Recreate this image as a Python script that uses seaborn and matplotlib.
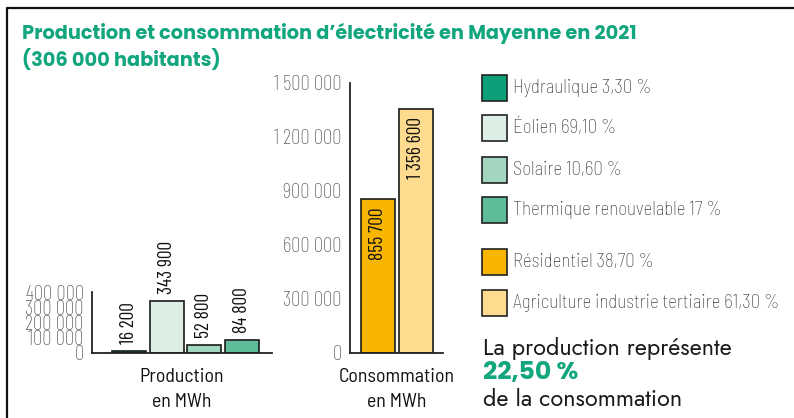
import matplotlib
matplotlib.use("Agg")
import matplotlib.pyplot as plt
from matplotlib import font_manager
from matplotlib.patches import Rectangle
from matplotlib.lines import Line2D
import seaborn as sns

# ---- data ----
prod_categories = ["Hydraulique", "Éolien", "Solaire", "Thermique renouvelable"]
prod_values = [16200, 343900, 52800, 84800]
prod_shares = ["3,30 %", "69,10 %", "10,60 %", "17 %"]
cons_categories = ["Résidentiel", "Agriculture industrie tertiaire"]
cons_values = [855700, 1356600]
cons_shares = ["38,70 %", "61,30 %"]
prod_ticks = [0, 100000, 200000, 300000, 400000]
cons_ticks = [0, 300000, 600000, 900000, 1200000, 1500000]
prod_axis_label = "Production\nen MWh"
cons_axis_label = "Consommation\nen MWh"
title_lines = ["Production et consommation d’électricité en Mayenne en 2021",
               "(306 000 habitants)"]
ratio_text = ["La production représente", "22,50 %", "de la consommation"]

prod_colors = ["#0BA07A", "#DDEFE5", "#A3D6BE", "#5EBC98"]
cons_colors = ["#F8B500", "#FEDB8E"]
green = "#12A67E"

sns.set_theme(style="white")
fl = font_manager.fontManager.ttflist
names = {f.name for f in fl}

def pick(cands):
    for c in cands:
        if c in names:
            return c
    return "DejaVu Sans"

def pick_bold(cands):
    for c in cands:
        for f in fl:
            if f.name == c and (f.weight in ("bold", 700, "700")):
                return c
    return "DejaVu Sans"

narrow = pick(["Barlow Condensed", "Archivo Narrow", "Roboto Condensed", "Liberation Sans Narrow"])
semi = pick(["Barlow Semi Condensed", "Barlow Condensed", "Archivo Narrow"])
geo = pick(["Jost", "Outfit", "Poppins", "Lexend", "Lato"])
geob = pick_bold(["Poppins", "Outfit", "Jost", "Lexend", "Montserrat", "Lato"])
plt.rcParams["font.family"] = [narrow, "DejaVu Sans"]
GEO = [geo, "DejaVu Sans"]
GEOB = [geob, "DejaVu Sans"]
SEMI = [semi, "DejaVu Sans"]

W, H = 794, 418
fig = plt.figure(figsize=(W / 100, H / 100), dpi=100)
fig.patch.set_facecolor("white")

def fx(x):
    return x / W

def fy(y):
    return 1 - y / H

def fmt(v):
    return f"{v:,}".replace(",", " ")

ax1 = fig.add_axes([fx(92), fy(353), 180 / W, 61 / H])
ax2 = fig.add_axes([fx(350), fy(353), 93 / W, 270 / H])

sns.barplot(x=prod_categories, y=prod_values, hue=prod_categories, palette=prod_colors,
            width=0.9, saturation=1, edgecolor="#1a1a1a", linewidth=1.2, legend=False, ax=ax1)
sns.barplot(x=cons_categories, y=cons_values, hue=cons_categories, palette=cons_colors,
            width=0.9, saturation=1, edgecolor="#1a1a1a", linewidth=1.2, legend=False, ax=ax2)

tick_color = "#4a4a4a"
for ax, ticks, xl, label in [(ax1, prod_ticks, (-0.99, 3.81), prod_axis_label),
                             (ax2, cons_ticks, (-0.75, 1.73), cons_axis_label)]:
    ax.set_facecolor("none")
    for s in ["top", "right"]:
        ax.spines[s].set_visible(False)
    for s in ["left", "bottom"]:
        ax.spines[s].set_color("#222222")
        ax.spines[s].set_linewidth(1.3)
    ax.set_ylim(ticks[0], ticks[-1])
    ax.set_yticks(ticks)
    ax.set_yticklabels([fmt(t) for t in ticks], fontweight="light")
    ax.set_xticks([xl[1]])
    ax.set_xticklabels([""])
    ax.set_xlim(*xl)
    ax.tick_params(axis="both", direction="in", length=6, width=1.3, color="#222222")
    ax.tick_params(axis="y", labelsize=15, labelcolor=tick_color, pad=6)
    ax.set_xlabel(label, fontsize=14.3, color="#111111", linespacing=1.5, labelpad=7,
                  family=SEMI)
    ax.set_ylabel("")

for p, v in zip(ax1.patches, prod_values):
    ax1.annotate(fmt(v), (p.get_x() + p.get_width() / 2, p.get_height()),
                 xytext=(0, 5), textcoords="offset points", rotation=90,
                 ha="center", va="bottom", fontsize=14, color="#111111",
                 annotation_clip=False)
for p, v in zip(ax2.patches, cons_values):
    ax2.annotate(fmt(v), (p.get_x() + p.get_width() / 2, p.get_height()),
                 xytext=(0, -6), textcoords="offset points", rotation=90,
                 ha="center", va="top", fontsize=14, color="#111111",
                 annotation_clip=False)

# legend
leg_rows = [88, 128, 170, 210, 262, 303]
leg_labels = [f"{c} {s}" for c, s in zip(prod_categories, prod_shares)] + \
             [f"{c} {s}" for c, s in zip(cons_categories, cons_shares)]
leg_colors = prod_colors + cons_colors
for yc, lab, col in zip(leg_rows, leg_labels, leg_colors):
    fig.add_artist(Rectangle((fx(482), fy(yc + 13)), 25 / W, 26 / H, transform=fig.transFigure,
                             facecolor=col, edgecolor="#222222", linewidth=1.2))
    fig.text(fx(513), fy(yc), lab, fontsize=13.6, color="#333333", va="center", ha="left",
             fontweight="light", family=SEMI)

# title
for yc, t in zip([33, 60], title_lines):
    fig.text(fx(22), fy(yc), t, fontsize=13.9, fontweight="bold", color=green,
             va="center", ha="left", family=GEOB)

# ratio text
fig.text(fx(483), fy(349), ratio_text[0], fontsize=16.8, color="#1a1a1a",
         va="center", ha="left", family=GEO)
fig.text(fx(483), fy(373), ratio_text[1], fontsize=18, fontweight="bold", color=green,
         va="center", ha="left", family=GEOB)
fig.text(fx(483), fy(400), ratio_text[2], fontsize=16.8, color="#1a1a1a",
         va="center", ha="left", family=GEO)

# frame
fig.add_artist(Line2D([fx(7), fx(7), fx(794)], [fy(418), fy(8), fy(8)],
                      transform=fig.transFigure, color="#111111", linewidth=1.6))

fig.savefig("out.png", dpi=100)
